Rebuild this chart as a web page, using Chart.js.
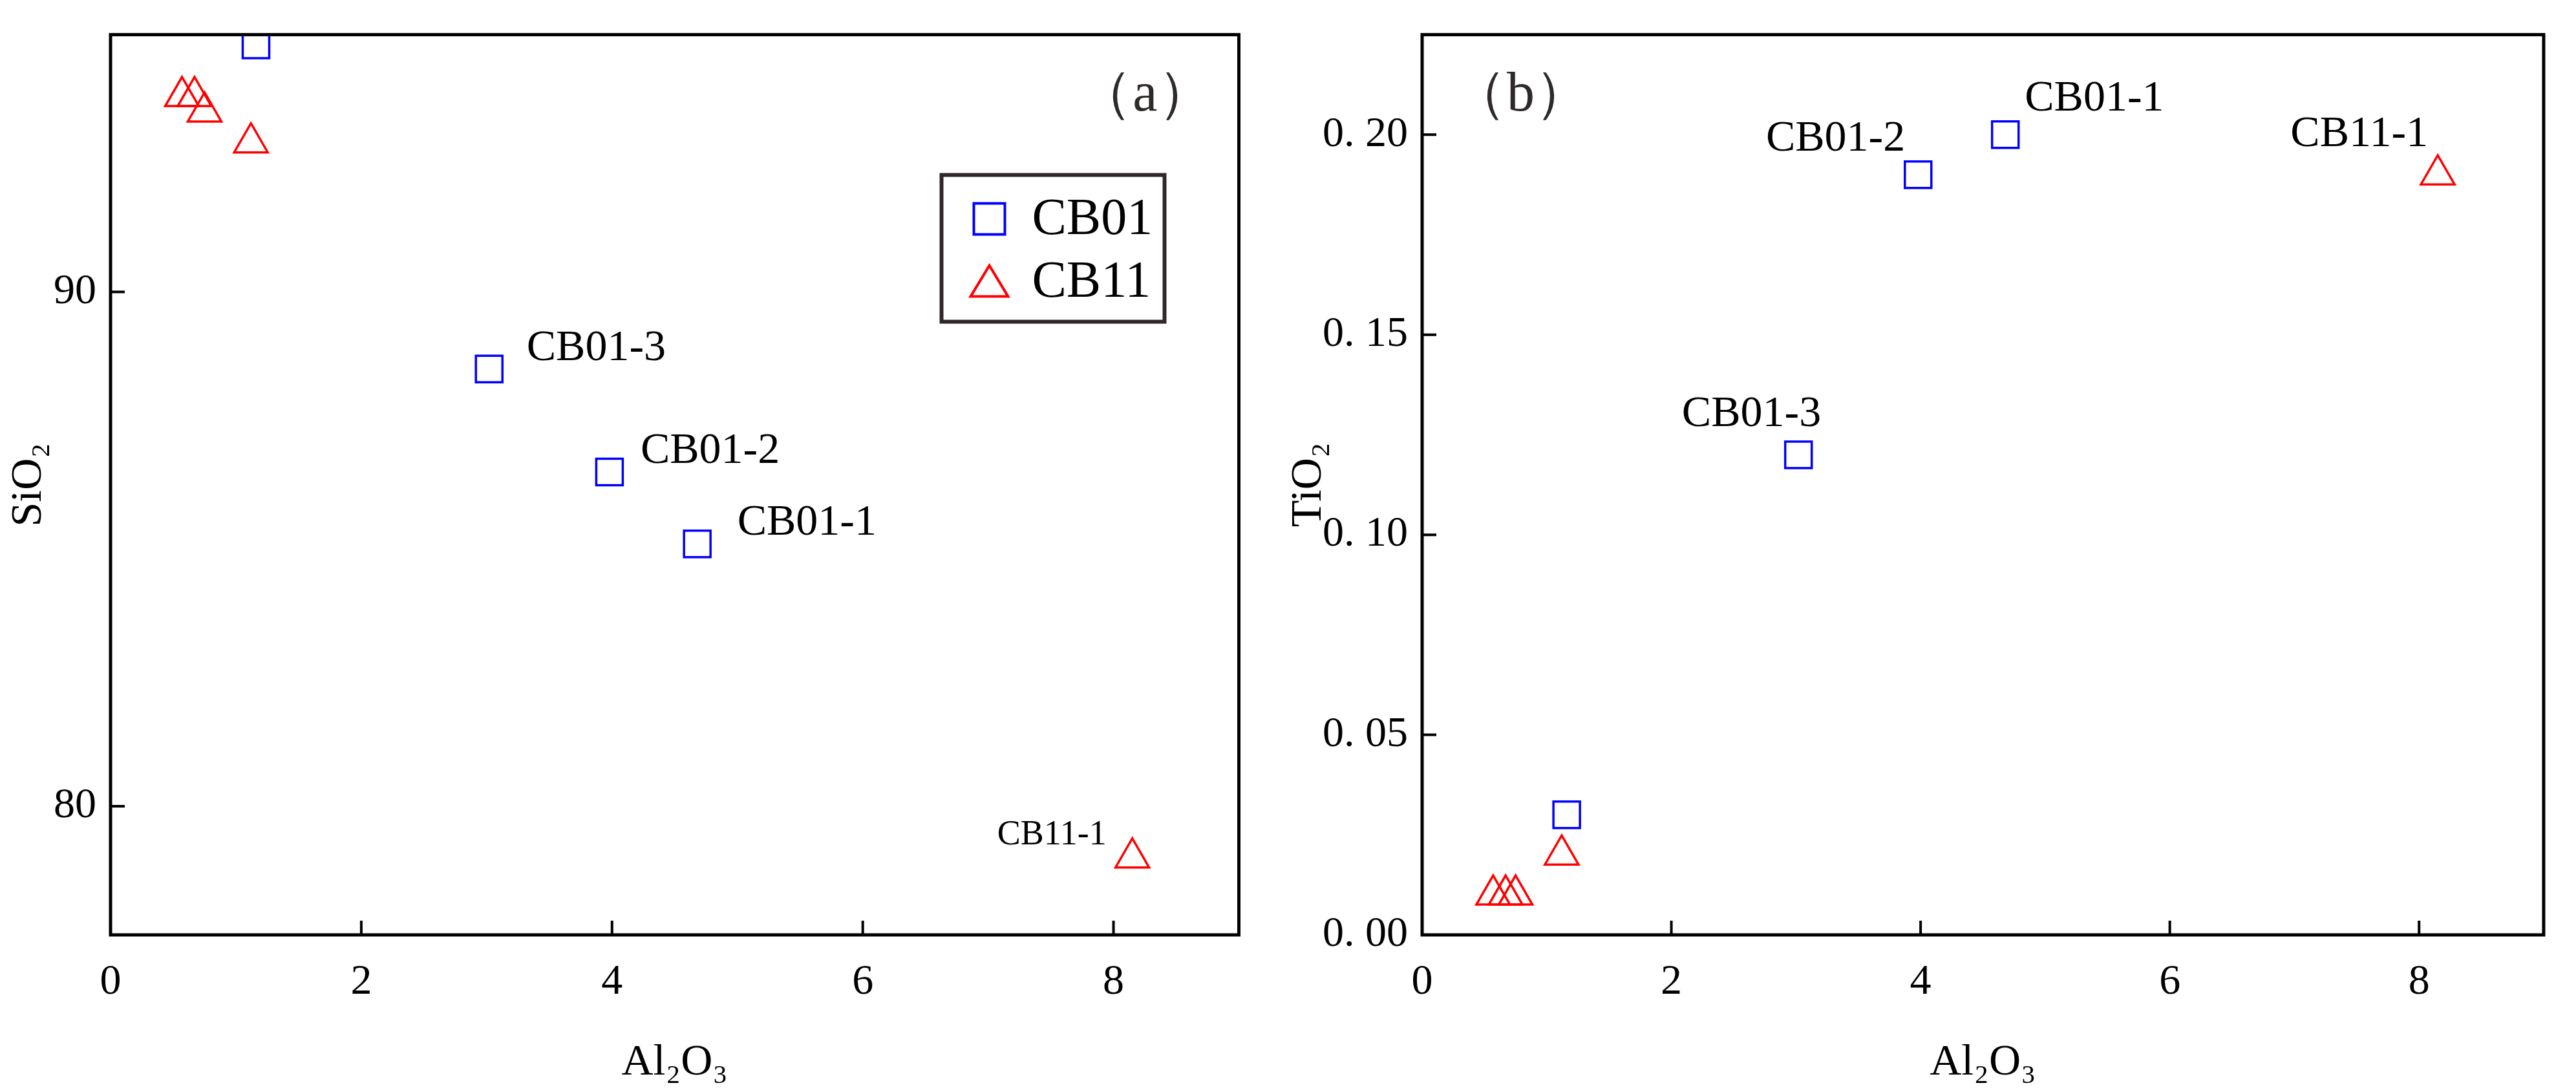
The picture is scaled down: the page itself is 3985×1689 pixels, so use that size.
<!DOCTYPE html>
<html>
<head>
<meta charset="utf-8">
<script src="https://cdn.jsdelivr.net/npm/chart.js@4"></script>
<style>
  body { margin: 0; background: #fff; }
  .box { position: absolute; top: 0; height: 1689px; }
</style>
</head>
<body>
<div class="box" style="left:0;width:1950px"><canvas id="chartA"></canvas></div>
<div class="box" style="left:1980px;width:2005px"><canvas id="chartB"></canvas></div>
<script>
// sample names and values
const cb01Names = ['', 'CB01-3', 'CB01-2', 'CB01-1'];
const cb01Al2O3 = [1.16, 3.02, 3.98, 4.68];
const cb01SiO2 = [94.8, 88.5, 86.5, 85.1];
const cb01TiO2 = [0.03, 0.12, 0.19, 0.20];

const cb11Names = ['', '', '', '', 'CB11-1'];
const cb11Al2O3 = [0.57, 0.67, 0.75, 1.12, 8.15];
const cb11SiO2 = [93.8, 93.8, 93.5, 92.9, 79.0];
const cb11TiO2 = [0.01, 0.01, 0.01, 0.02, 0.19];

const xTicks = [0, 2, 4, 6, 8];
const siTicks = [80, 90];
const tiTicks = [0, 0.05, 0.10, 0.15, 0.20];

const FONT = '"Liberation Serif", "Times New Roman", serif';

function pts(xs, ys) { return xs.map((x, i) => ({ x: x, y: ys[i] })); }

// frame, inward ticks, labels next to points, panel letter, legend
function framePlugin(opts) {
  return {
    id: 'frame',
    afterDraw(chart) {
      const c = chart.ctx, a = chart.chartArea;
      const xs = chart.scales.x, ys = chart.scales.y;
      c.save();
      c.strokeStyle = '#000';
      c.lineWidth = 4;
      c.beginPath();
      xs.ticks.forEach(t => { const p = xs.getPixelForValue(t.value); c.moveTo(p, a.bottom); c.lineTo(p, a.bottom - 22); });
      ys.ticks.forEach(t => { const p = ys.getPixelForValue(t.value); c.moveTo(a.left, p); c.lineTo(a.left + 22, p); });
      c.stroke();
      c.lineWidth = 5;
      c.strokeRect(a.left, a.top, a.right - a.left, a.bottom - a.top);

      c.fillStyle = '#000';
      c.textBaseline = 'middle';
      opts.labels.forEach(l => {
        c.font = l.size + 'px ' + FONT;
        c.textAlign = l.align;
        c.fillText(l.text, xs.getPixelForValue(l.x) + l.dx, ys.getPixelForValue(l.y) + l.dy);
      });

      c.font = '86px ' + FONT;
      c.fillStyle = '#2f2a2a';
      c.textAlign = opts.panelAlign;
      c.fillText(opts.panel, opts.panelAlign === 'right' ? a.right - 40 : a.left + 45, a.top + 95);

      if (opts.legend) {
        const lx = a.right - 460, ly = a.top + 217, lw = 345, lh = 227;
        c.strokeStyle = '#302828';
        c.lineWidth = 6;
        c.strokeRect(lx, ly, lw, lh);
        c.lineWidth = 4;
        c.strokeStyle = '#0000ff';
        c.strokeRect(lx + 50, ly + 44, 48, 48);
        c.strokeStyle = '#ff0000';
        c.beginPath();
        c.moveTo(lx + 45, ly + 188); c.lineTo(lx + 103, ly + 188); c.lineTo(lx + 74, ly + 140); c.closePath();
        c.stroke();
        c.fillStyle = '#000';
        c.textAlign = 'left';
        c.font = '80px ' + FONT;
        c.fillText('CB01', lx + 140, ly + 70);
        c.fillText('CB11', lx + 140, ly + 167);
      }
      c.restore();
    }
  };
}

function makeChart(id, yVals01, yVals11, yMin, yMax, yTicks, yTitle, yFmt, yWidth, padRight, plugin) {
  return new Chart(document.getElementById(id), {
    type: 'scatter',
    data: {
      datasets: [{
        label: 'CB01',
        data: pts(cb01Al2O3, yVals01),
        pointStyle: 'rect',
        pointRadius: 29,
        pointBorderWidth: 3.5,
        borderColor: '#0000ff',
        backgroundColor: 'rgba(0,0,0,0)'
      }, {
        label: 'CB11',
        data: pts(cb11Al2O3, yVals11),
        pointStyle: 'triangle',
        pointRadius: 30,
        pointBorderWidth: 3.5,
        borderColor: '#ff0000',
        backgroundColor: 'rgba(0,0,0,0)'
      }]
    },
    options: {
      responsive: true,
      maintainAspectRatio: false,
      animation: false,
      layout: { padding: { top: 13, right: padRight } },
      plugins: { legend: { display: false }, tooltip: { enabled: false } },
      scales: {
        x: {
          type: 'linear', min: 0, max: 9,
          afterBuildTicks: s => { s.ticks = xTicks.map(v => ({ value: v })); },
          afterFit: s => { s.height = 243; },
          grid: { display: false },
          border: { display: false },
          ticks: { color: '#000', font: { family: FONT, size: 66 }, padding: 26 },
          title: { display: true, text: 'Al₂O₃', color: '#000', font: { family: FONT, size: 68 }, padding: { top: 36 } }
        },
        y: {
          type: 'linear', min: yMin, max: yMax,
          afterBuildTicks: s => { s.ticks = yTicks.map(v => ({ value: v })); },
          afterFit: s => { s.width = yWidth; },
          grid: { display: false },
          border: { display: false },
          ticks: { color: '#000', font: { family: FONT, size: 66 }, padding: 14, callback: yFmt },
          title: { display: true, text: yTitle, color: '#000', font: { family: FONT, size: 68 }, padding: { bottom: 10 } }
        }
      }
    },
    plugins: [plugin]
  });
}

function labelsFor(names, xs, ys, sets) {
  return names.map((n, i) => n ? Object.assign({ text: n, x: xs[i], y: ys[i] }, sets[n]) : null).filter(Boolean);
}

const labelsA = labelsFor(cb01Names, cb01Al2O3, cb01SiO2, {
  'CB01-3': { dx: 58, dy: -32, align: 'left', size: 68 },
  'CB01-2': { dx: 48, dy: -32, align: 'left', size: 68 },
  'CB01-1': { dx: 62, dy: -32, align: 'left', size: 68 }
}).concat(labelsFor(cb11Names, cb11Al2O3, cb11SiO2, {
  'CB11-1': { dx: -40, dy: -35, align: 'right', size: 54 }
}));

const labelsB = labelsFor(cb01Names, cb01Al2O3, cb01TiO2, {
  'CB01-3': { dx: 35, dy: -62, align: 'right', size: 68 },
  'CB01-2': { dx: -20, dy: -55, align: 'right', size: 68 },
  'CB01-1': { dx: 30, dy: -55, align: 'left', size: 68 }
}).concat(labelsFor(cb11Names, cb11Al2O3, cb11TiO2, {
  'CB11-1': { dx: -15, dy: -62, align: 'right', size: 68 }
}));

makeChart('chartA', cb01SiO2, cb11SiO2, 77.5, 95, siTicks, 'SiO₂', v => String(v), 171, 32,
  framePlugin({ labels: labelsA, panel: '（a）', panelAlign: 'right', legend: true }));
makeChart('chartB', cb01TiO2, cb11TiO2, 0, 0.225, tiTicks, 'TiO₂', v => v.toFixed(2).replace('.', '. '), 220, 50,
  framePlugin({ labels: labelsB, panel: '（b）', panelAlign: 'left', legend: false }));
</script>
</body>
</html>
